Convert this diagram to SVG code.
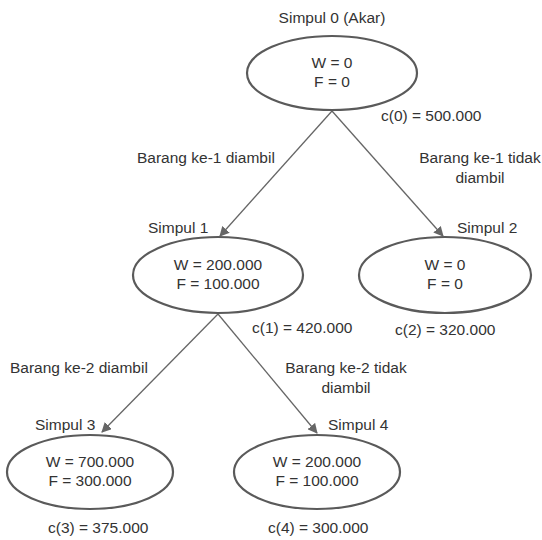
<svg xmlns="http://www.w3.org/2000/svg" width="542" height="540" viewBox="0 0 542 540">
<style>
text{font-family:"Liberation Sans",Arial,sans-serif;font-size:15.5px;fill:#333}
.m{text-anchor:middle}
ellipse{fill:#fff;stroke:#5a5a5a;stroke-width:2.2}
.c{stroke:#666;stroke-width:1.3;fill:none}
</style>
<defs>
<marker id="ah" viewBox="0 0 10 10" refX="9" refY="5" markerWidth="10" markerHeight="10" markerUnits="userSpaceOnUse" orient="auto">
<path d="M0,0 L10,5 L0,10 Z" fill="#666"/>
</marker>
</defs>
<rect width="542" height="540" fill="#fff"/>
<g id="connectors">
<line class="c" x1="332" y1="111" x2="220" y2="236" marker-end="url(#ah)"/>
<line class="c" x1="332" y1="111" x2="443" y2="236" marker-end="url(#ah)"/>
<line class="c" x1="218" y1="314" x2="102" y2="432" marker-end="url(#ah)"/>
<line class="c" x1="218" y1="314" x2="317" y2="433" marker-end="url(#ah)"/>
<text x="137" y="163">Barang ke-1 diambil</text>
<text class="m" x="480" y="163">Barang ke-1 tidak</text>
<text class="m" x="480" y="183">diambil</text>
<text x="10" y="373">Barang ke-2 diambil</text>
<text class="m" x="346" y="373">Barang ke-2 tidak</text>
<text class="m" x="346" y="393">diambil</text>
</g>
<g id="simpul0">
<text class="m" x="332" y="23">Simpul 0 (Akar)</text>
<ellipse cx="332" cy="73" rx="85" ry="37"/>
<text class="m" x="332" y="68">W = 0</text>
<text class="m" x="332" y="87">F = 0</text>
<text x="381" y="121">c(0) = 500.000</text>
</g>
<g id="simpul1">
<text x="148" y="233">Simpul 1</text>
<ellipse cx="218" cy="275" rx="85" ry="38"/>
<text class="m" x="218" y="270">W = 200.000</text>
<text class="m" x="218" y="289">F = 100.000</text>
<text x="252" y="333">c(1) = 420.000</text>
</g>
<g id="simpul2">
<text x="457" y="233">Simpul 2</text>
<ellipse cx="445" cy="275" rx="86" ry="38"/>
<text class="m" x="445" y="270">W = 0</text>
<text class="m" x="445" y="289">F = 0</text>
<text x="395" y="335">c(2) = 320.000</text>
</g>
<g id="simpul3">
<text x="35" y="430">Simpul 3</text>
<ellipse cx="90" cy="472" rx="83" ry="37"/>
<text class="m" x="90" y="467">W = 700.000</text>
<text class="m" x="90" y="486">F = 300.000</text>
<text x="48" y="533">c(3) = 375.000</text>
</g>
<g id="simpul4">
<text x="328" y="430">Simpul 4</text>
<ellipse cx="317" cy="472" rx="83" ry="37"/>
<text class="m" x="317" y="467">W = 200.000</text>
<text class="m" x="317" y="486">F = 100.000</text>
<text x="268" y="533">c(4) = 300.000</text>
</g>
</svg>
